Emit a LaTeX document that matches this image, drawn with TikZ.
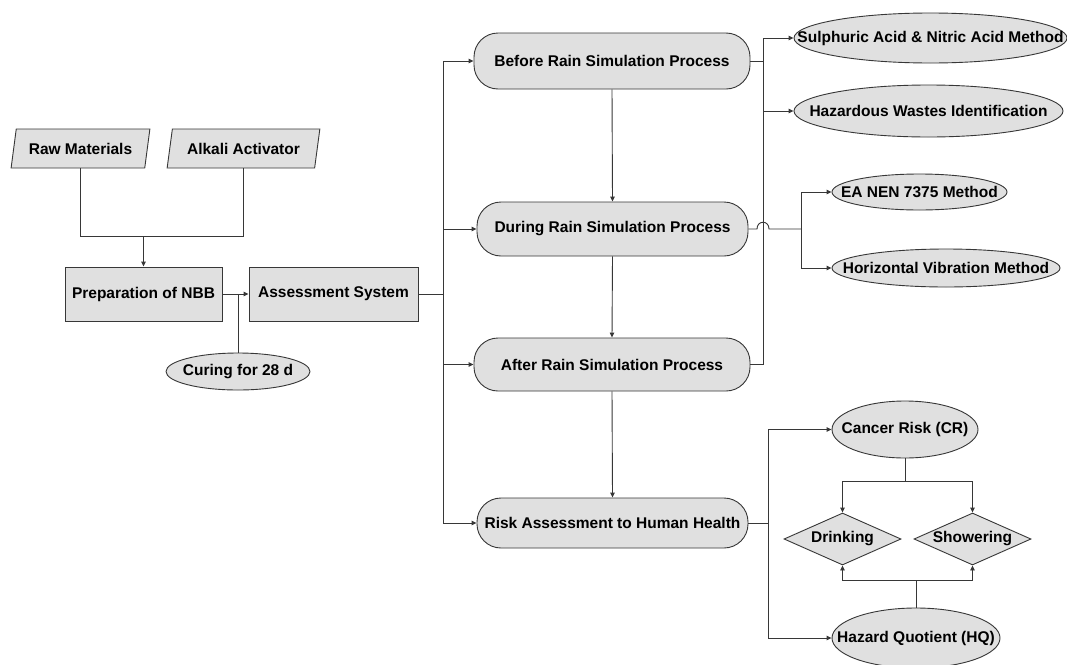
\documentclass[tikz,border=0pt]{standalone}
\usepackage{fontspec}
\setmainfont{Liberation Sans}
\usetikzlibrary{shapes.geometric,arrows.meta}
\definecolor{boxfill}{RGB}{224,224,224}
\definecolor{linec}{RGB}{55,55,55}
\begin{document}
\begin{tikzpicture}[x=1pt,y=-1pt,
  every node/.style={font=\fontsize{15.5}{18}\selectfont\bfseries, text=black},
  base/.style={draw=linec, line width=0.9pt, fill=boxfill, inner sep=0pt},
  para/.style={base, trapezium, trapezium left angle=70, trapezium right angle=110, trapezium stretches=true},
  rect/.style={base, rectangle},
  pill/.style={base, rectangle, rounded corners=24pt},
  oval/.style={base, ellipse},
  dia/.style={base, diamond, aspect=2.25},
  conn/.style={draw=linec, line width=0.9pt},
  arr/.style={conn, -{Triangle[length=5pt,width=4.5pt]}}
]
\useasboundingbox (0,0) rectangle (1067,664);
\fill[white] (0,0) rectangle (1067,664);

% left part
\node[para, minimum width=139, minimum height=39] (raw) at (80.5,148.5) {Raw Materials};
\node[para, minimum width=153, minimum height=39] (alk) at (243.5,148.5) {Alkali Activator};
\node[rect, minimum width=157, minimum height=54] (prep) at (143.5,294) {Preparation of NBB};
\node[rect, minimum width=169, minimum height=54] (assess) at (333.5,294) {Assessment System};
\node[oval, minimum width=144, minimum height=37] (cure) at (238,371.5) {\makebox[0pt]{Curing for 28 d}};

% middle column
\node[pill, minimum width=276, minimum height=56] (before) at (612,61) {Before Rain Simulation Process};
\node[pill, minimum width=271, minimum height=54] (during) at (612.5,229) {During Rain Simulation Process};
\node[pill, minimum width=276, minimum height=53] (after) at (612,364.5) {After Rain Simulation Process};
\node[pill, minimum width=271, minimum height=50] (risk) at (612.5,523) {Risk Assessment to Human Health};

% right column
\node[oval, minimum width=273, minimum height=50] (sulph) at (930.5,38) {\makebox[0pt]{Sulphuric Acid \& Nitric Acid Method}};
\node[oval, minimum width=269, minimum height=52] (haz) at (928.5,111) {\makebox[0pt]{Hazardous Wastes Identification}};
\node[oval, minimum width=175, minimum height=36] (ea) at (919.5,192) {\makebox[0pt]{EA NEN 7375 Method}};
\node[oval, minimum width=228, minimum height=38] (hv) at (946,268) {\makebox[0pt]{Horizontal Vibration Method}};
\node[oval, minimum width=146, minimum height=57] (cancer) at (905,429.5) {\makebox[0pt]{Cancer Risk (CR)}};
\node[dia, minimum width=117, minimum height=52] (drink) at (842.5,539) {Drinking};
\node[dia, minimum width=117, minimum height=52] (shower) at (972.5,539) {Showering};
\node[oval, minimum width=168, minimum height=60] (hq) at (916,638) {\makebox[0pt]{Hazard Quotient (HQ)}};

% connectors, left
\coordinate (mjoin) at (143.5,236);
\draw[conn] (raw.south) |- (alk.south |- mjoin) -- (alk.south);
\draw[arr] (mjoin) -- (prep.north);
\draw[arr] (prep.east) -- (assess.west);
\draw[conn] (cure.north) -- (cure.north |- prep.east);

% bus to the middle column
\draw[conn] (assess.east) -- ++(25,0) coordinate (lb);
\draw[conn] (lb |- before.west) -- (lb |- risk.west);
\draw[arr] (lb |- before.west) -- (before.west);
\draw[arr] (lb |- during.west) -- (during.west);
\draw[arr] (lb |- after.west) -- (after.west);
\draw[arr] (lb |- risk.west) -- (risk.west);

% vertical flow
\draw[arr] (before.south) -- (during.north);
\draw[arr] (during.south) -- (after.north);
\draw[arr] (after.south) -- (risk.north);

% before / after branches
\coordinate (rb) at (763,0);
\draw[conn] (before.east) -- (rb |- before.east);
\draw[conn] (after.east) -- (rb |- after.east) -- (rb |- sulph.west);
\draw[arr] (rb |- sulph.west) -- (sulph.west);
\draw[arr] (rb |- haz.west) -- (haz.west);

% during branch with a jump over the bus
\coordinate (j1) at (757,229);
\coordinate (j2) at (769,229);
\coordinate (dsplit) at (801,229);
\draw[conn] (during.east) -- (j1) .. controls (757,220) and (769,220) .. (j2) -- (dsplit);
\draw[conn] (dsplit |- ea.west) -- (dsplit |- hv.west);
\draw[arr] (dsplit |- ea.west) -- (ea.west);
\draw[arr] (dsplit |- hv.west) -- (hv.west);

% risk branches
\draw[conn] (risk.east) -- ++(20,0) coordinate (hb);
\draw[conn] (hb |- cancer.west) -- (hb |- hq.west);
\draw[arr] (hb |- cancer.west) -- (cancer.west);
\draw[arr] (hb |- hq.west) -- (hq.west);

% cancer risk to diamonds
\draw[conn] (cancer.south) -- ++(0,23) coordinate (cj);
\draw[conn] (drink.north |- cj) -- (shower.north |- cj);
\draw[arr] (drink.north |- cj) -- (drink.north);
\draw[arr] (shower.north |- cj) -- (shower.north);
% hazard quotient to diamonds
\draw[conn] (hq.north) -- ++(0,-27) coordinate (hj);
\draw[conn] (drink.south |- hj) -- (shower.south |- hj);
\draw[arr] (drink.south |- hj) -- (drink.south);
\draw[arr] (shower.south |- hj) -- (shower.south);
\end{tikzpicture}
\end{document}
